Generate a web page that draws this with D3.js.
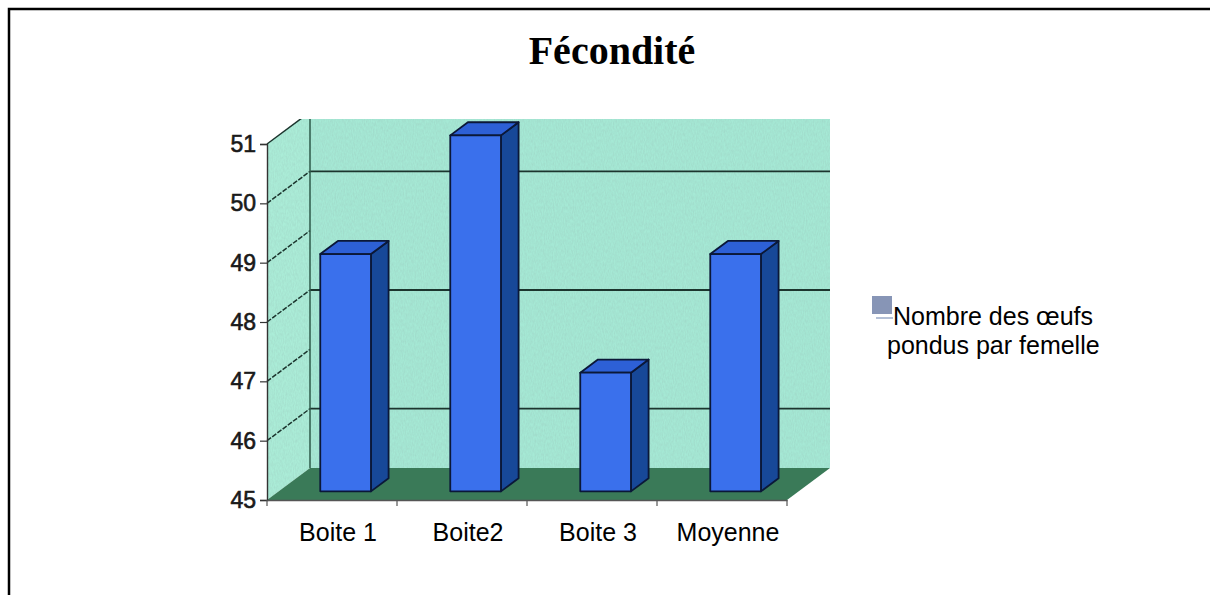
<!DOCTYPE html>
<html>
<head>
<meta charset="utf-8">
<script src="https://cdn.jsdelivr.net/npm/d3@7"></script>
<style>
  html, body { margin: 0; padding: 0; background: #ffffff; }
  svg { display: block; }
</style>
</head>
<body>
<svg id="chart" width="1210" height="595"></svg>
<script>
// ---- data ----
const title = "Fécondité";
const categories = ["Boite 1", "Boite2", "Boite 3", "Moyenne"];
const values = [49, 51, 47, 49];
const yTicks = [45, 46, 47, 48, 49, 50, 51];
const backGridValues = [46, 48, 50];
const legendLines = ["Nombre des œufs", "pondus par femelle"];

// ---- layout ----
const svg = d3.select("#chart");
const W = 1210, H = 595;
const x0 = 267, x1 = 787, yBottom = 500, yTop = 144;
const DX = 43, DY = -32;           // depth offset of the back wall
const clipTop = 119;

const y = d3.scaleLinear().domain([45, 51]).range([yBottom, yTop]);
const x = d3.scaleBand().domain(categories).range([x0, x1]).padding(0);

const colors = {
  wall: "#a6e9d5",
  sideWall: "#abedd8",
  floor: "#3a7a58",
  grid: "#1c352e",
  barFront: "#3a70ec",
  barSide: "#174898",
  barTop: "#2d60d6",
  barStroke: "#0b1838",
  legend: "#8795b6"
};

// outer frame
svg.append("rect").attr("x", 9).attr("y", 9).attr("width", W + 20).attr("height", H + 20)
  .attr("fill", "none").attr("stroke", "#000").attr("stroke-width", 2.5);

// title
svg.append("text").attr("x", 612).attr("y", 64).attr("text-anchor", "middle")
  .attr("font-family", "'Liberation Serif', 'Times New Roman', serif")
  .attr("font-weight", "bold").attr("font-size", 40).attr("fill", "#000")
  .text(title);

// clip for walls
svg.append("clipPath").attr("id", "plotclip").append("rect")
  .attr("x", 0).attr("y", clipTop).attr("width", W).attr("height", H);

function grainFilter(id, alpha) {
  const f = svg.append("filter").attr("id", id).attr("x", 0).attr("y", 0).attr("width", 1).attr("height", 1);
  f.append("feTurbulence").attr("type", "fractalNoise").attr("baseFrequency", "0.9 0.3").attr("numOctaves", 2).attr("seed", 3).attr("result", "t");
  f.append("feColorMatrix").attr("in", "t").attr("type", "matrix")
    .attr("values", `0 0 0 0 0.3  0 0 0 0 0.5  0 0 0 0 0.45  0 0 0 ${alpha} -0.12`).attr("result", "n");
  f.append("feComposite").attr("in", "n").attr("in2", "SourceGraphic").attr("operator", "in").attr("result", "nc");
  f.append("feMerge").selectAll("feMergeNode").data(["SourceGraphic", "nc"]).join("feMergeNode").attr("in", d => d);
}
grainFilter("grain", 0.5);

const walls = svg.append("g").attr("clip-path", "url(#plotclip)");

// side wall (left)
walls.append("path")
  .attr("d", `M${x0},${y(45)} L${x0 + DX},${y(45) + DY} L${x0 + DX},${y(51) + DY} L${x0},${y(51)} Z`)
  .attr("fill", colors.sideWall).attr("filter", "url(#grain)");
// back wall
walls.append("rect")
  .attr("x", x0 + DX).attr("y", y(51) + DY - 10)
  .attr("width", x1 - x0).attr("height", y(45) - y(51) + 10)
  .attr("fill", colors.wall).attr("filter", "url(#grain)");
// floor
svg.append("path")
  .attr("d", `M${x0},${y(45)} L${x1},${y(45)} L${x1 + DX},${y(45) + DY} L${x0 + DX},${y(45) + DY} Z`)
  .attr("fill", colors.floor);

// back grid lines
svg.append("g").selectAll("line").data(backGridValues).join("line")
  .attr("x1", x0 + DX).attr("x2", x1 + DX)
  .attr("y1", d => y(d) + DY).attr("y2", d => y(d) + DY)
  .attr("stroke", colors.grid).attr("stroke-width", 1.8);

// side wall diagonal grid lines
svg.append("g").attr("clip-path", "url(#plotclip)")
  .selectAll("line").data(yTicks.slice(1)).join("line")
  .attr("x1", x0).attr("y1", d => y(d))
  .attr("x2", x0 + DX).attr("y2", d => y(d) + DY)
  .attr("stroke", colors.grid).attr("stroke-width", 1.5)
  .attr("stroke-dasharray", (d, i) => i === yTicks.length - 2 ? null : "5,1.5");

// back-left corner edge
svg.append("line")
  .attr("x1", x0 + DX).attr("x2", x0 + DX)
  .attr("y1", clipTop).attr("y2", y(45) + DY)
  .attr("stroke", "#2e5a4a").attr("stroke-width", 1.5);

// bars (3D)
const fFront = 0.27, fBack = 0.68;
const barW = x.bandwidth() * 0.39;
const bars = svg.append("g");
categories.forEach((c, i) => {
  const v = values[i];
  const cx = x(c) + x.bandwidth() / 2 + DX * fFront + 2;
  const bx0 = cx - barW / 2, bx1 = cx + barW / 2;
  const fy0 = y(45) + DY * fFront, fyT = y(v) + DY * fFront;
  const ddx = DX * (fBack - fFront), ddy = DY * (fBack - fFront);
  const g = bars.append("g").attr("stroke", colors.barStroke).attr("stroke-width", 1.8).attr("stroke-linejoin", "round");
  g.append("path")
    .attr("d", `M${bx1},${fyT} L${bx1 + ddx},${fyT + ddy} L${bx1 + ddx},${fy0 + ddy} L${bx1},${fy0} Z`)
    .attr("fill", colors.barSide);
  g.append("path")
    .attr("d", `M${bx0},${fyT} L${bx0 + ddx},${fyT + ddy} L${bx1 + ddx},${fyT + ddy} L${bx1},${fyT} Z`)
    .attr("fill", colors.barTop);
  g.append("rect")
    .attr("x", bx0).attr("y", fyT).attr("width", barW).attr("height", fy0 - fyT)
    .attr("fill", colors.barFront);
});

// axes
const yAxis = d3.axisLeft(y).tickValues(yTicks).tickSize(7).tickPadding(4).tickFormat(d3.format("d"));
const gy = svg.append("g").attr("transform", `translate(${x0},0)`).call(yAxis);
gy.select(".domain").attr("stroke", "#333").attr("stroke-width", 1.4);
gy.selectAll(".tick line").attr("stroke", "#333").attr("stroke-width", 1.2);
gy.selectAll("text")
  .attr("font-family", "'Liberation Sans', Arial, sans-serif")
  .attr("font-size", 23).attr("fill", "#1a1a1a")
  .attr("stroke", "#1a1a1a").attr("stroke-width", 0.6);

const xAxis = d3.axisBottom(x).tickSize(0).tickPadding(0).tickFormat("");
const gx = svg.append("g").attr("transform", `translate(0,${yBottom})`).call(xAxis);
gx.select(".domain").attr("stroke", "#555").attr("stroke-width", 1.4);
const bounds = categories.map(c => x(c)).concat([x1]);
gx.selectAll(".bt").data(bounds).join("line").attr("class", "bt")
  .attr("x1", d => d).attr("x2", d => d).attr("y1", 0).attr("y2", 6)
  .attr("stroke", "#555").attr("stroke-width", 1.2);

// category labels
svg.append("g").selectAll("text").data(categories).join("text")
  .attr("x", d => x(d) + x.bandwidth() / 2 + 6)
  .attr("y", 541)
  .attr("text-anchor", "middle")
  .attr("font-family", "'Liberation Sans', Arial, sans-serif")
  .attr("font-size", 25).attr("fill", "#000")
  .text(d => d);

// legend
const lg = svg.append("g");
lg.append("rect").attr("x", 872).attr("y", 296).attr("width", 20).attr("height", 18).attr("fill", colors.legend);
lg.append("line").attr("x1", 876).attr("x2", 893).attr("y1", 318).attr("y2", 318).attr("stroke", "#b4c0d6").attr("stroke-width", 2);
lg.selectAll("text").data(legendLines).join("text")
  .attr("x", (d, i) => i === 0 ? 893 : 887)
  .attr("y", (d, i) => 325 + i * 29)
  .attr("font-family", "'Liberation Sans', Arial, sans-serif")
  .attr("font-size", 25).attr("fill", "#000")
  .text(d => d);
</script>
</body>
</html>
